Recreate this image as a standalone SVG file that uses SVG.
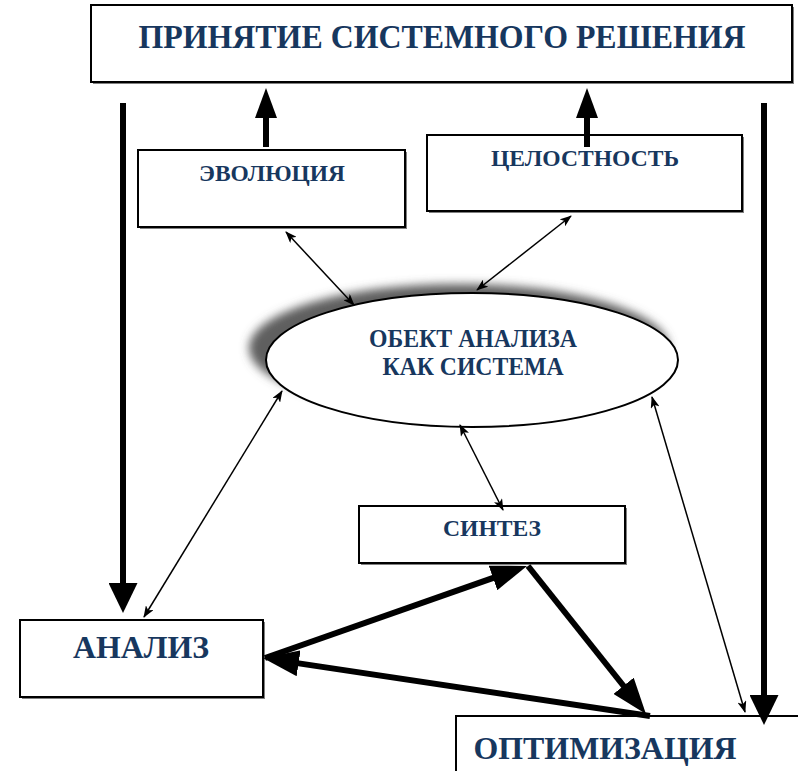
<svg xmlns="http://www.w3.org/2000/svg" width="798" height="771" viewBox="0 0 798 771">
  <style>
    .box { fill: #ffffff; stroke: #000000; stroke-width: 2; }
    .shadow { fill: #808080; }
    .label { font-family: "Liberation Serif", "Times New Roman", serif; font-weight: bold; fill: #17375e; text-anchor: middle; }
    .thick { stroke: #000000; stroke-width: 6; fill: none; }
    .thin { stroke: #000000; stroke-width: 1.5; fill: none; }
  </style>
  <defs>
    <marker id="big" markerUnits="userSpaceOnUse" viewBox="0 0 36 26" markerWidth="36" markerHeight="26" refX="20" refY="13" orient="auto">
      <path d="M0,0 L36,13 L0,26 z" fill="#000"/>
    </marker>
    <marker id="down" markerUnits="userSpaceOnUse" viewBox="0 0 30 29" markerWidth="30" markerHeight="29" refX="16" refY="14.5" orient="auto">
      <path d="M0,0 L30,14.5 L0,29 z" fill="#000"/>
    </marker>
    <marker id="up" markerUnits="userSpaceOnUse" viewBox="0 0 30 22" markerWidth="30" markerHeight="22" refX="16" refY="11" orient="auto">
      <path d="M0,0 L30,11 L0,22 z" fill="#000"/>
    </marker>
    <marker id="tip" markerUnits="userSpaceOnUse" viewBox="0 0 12 9" markerWidth="12" markerHeight="9" refX="11" refY="4.5" orient="auto-start-reverse">
      <path d="M0,0 L12,4.5 L0,9 L3,4.5 z" fill="#000"/>
    </marker>
    <filter id="haze" x="-30%" y="-40%" width="160%" height="180%">
      <feGaussianBlur stdDeviation="5"/>
    </filter>
  </defs>

  <!-- decision box -->
  <g id="decision">
    <rect class="shadow" x="93" y="7" width="701" height="77"/>
    <rect class="box" x="91" y="5" width="701" height="77"/>
    <text class="label" x="442" y="48" font-size="34" textLength="607" lengthAdjust="spacingAndGlyphs">ПРИНЯТИЕ СИСТЕМНОГО РЕШЕНИЯ</text>
  </g>

  <!-- evolution -->
  <g id="evolution">
    <rect class="shadow" x="140" y="152" width="267" height="77"/>
    <rect class="box" x="138" y="150" width="267" height="77"/>
    <text class="label" x="272" y="181" font-size="24" textLength="146" lengthAdjust="spacingAndGlyphs">ЭВОЛЮЦИЯ</text>
  </g>

  <!-- integrity -->
  <g id="integrity">
    <rect class="shadow" x="429" y="137" width="315" height="76"/>
    <rect class="box" x="427" y="135" width="315" height="76"/>
    <text class="label" x="585" y="166" font-size="24" textLength="188" lengthAdjust="spacingAndGlyphs">ЦЕЛОСТНОСТЬ</text>
  </g>

  <!-- object of analysis, with a soft shadow behind it -->
  <g id="object">
    <ellipse cx="459" cy="348" rx="210" ry="64" fill="#5e5e5e" filter="url(#haze)"/>
    <ellipse cx="472" cy="360" rx="206" ry="67" fill="#ffffff" stroke="#000" stroke-width="2"/>
    <text class="label" x="473" y="347" font-size="25" textLength="208" lengthAdjust="spacingAndGlyphs">ОБЕКТ АНАЛИЗА</text>
    <text class="label" x="473" y="375" font-size="25" textLength="181" lengthAdjust="spacingAndGlyphs">КАК СИСТЕМА</text>
  </g>

  <!-- synthesis -->
  <g id="synthesis">
    <rect class="shadow" x="361" y="508" width="266" height="57"/>
    <rect class="box" x="359" y="506" width="266" height="57"/>
    <text class="label" x="492" y="536" font-size="23" textLength="98" lengthAdjust="spacingAndGlyphs">СИНТЕЗ</text>
  </g>

  <!-- analysis -->
  <g id="analysis">
    <rect class="shadow" x="22" y="622" width="243" height="77"/>
    <rect class="box" x="20" y="620" width="243" height="77"/>
    <text class="label" x="141" y="658" font-size="32" textLength="136" lengthAdjust="spacingAndGlyphs">АНАЛИЗ</text>
  </g>

  <!-- optimization -->
  <g id="optimization">
    <rect class="shadow" x="458" y="718" width="345" height="60"/>
    <rect class="box" x="456" y="716" width="345" height="60"/>
    <text class="label" x="605" y="759" font-size="32" textLength="263" lengthAdjust="spacingAndGlyphs">ОПТИМИЗАЦИЯ</text>
  </g>

  <!-- connectors -->
  <g id="connectors">
    <line class="thick" x1="123" y1="103" x2="123" y2="599" marker-end="url(#down)"/>
    <line class="thick" x1="764" y1="103" x2="764" y2="711" marker-end="url(#down)"/>
    <line class="thick" x1="266" y1="147" x2="266" y2="102" marker-end="url(#up)"/>
    <line class="thick" x1="587" y1="147" x2="587" y2="102" marker-end="url(#up)"/>

    <line class="thick" x1="265" y1="658" x2="511.9" y2="571.3" marker-end="url(#big)"/>
    <line class="thick" x1="528" y1="566" x2="636" y2="701.5" marker-end="url(#big)"/>
    <line class="thick" x1="650" y1="716" x2="278.8" y2="660.4" marker-end="url(#big)"/>

    <line class="thin" x1="286" y1="232" x2="354" y2="305" marker-start="url(#tip)" marker-end="url(#tip)"/>
    <line class="thin" x1="571" y1="216" x2="477" y2="290" marker-start="url(#tip)" marker-end="url(#tip)"/>
    <line class="thin" x1="282" y1="391" x2="144" y2="617" marker-start="url(#tip)" marker-end="url(#tip)"/>
    <line class="thin" x1="460" y1="425" x2="503" y2="510" marker-start="url(#tip)" marker-end="url(#tip)"/>
    <line class="thin" x1="652" y1="397" x2="745" y2="712" marker-start="url(#tip)" marker-end="url(#tip)"/>
  </g>
</svg>
